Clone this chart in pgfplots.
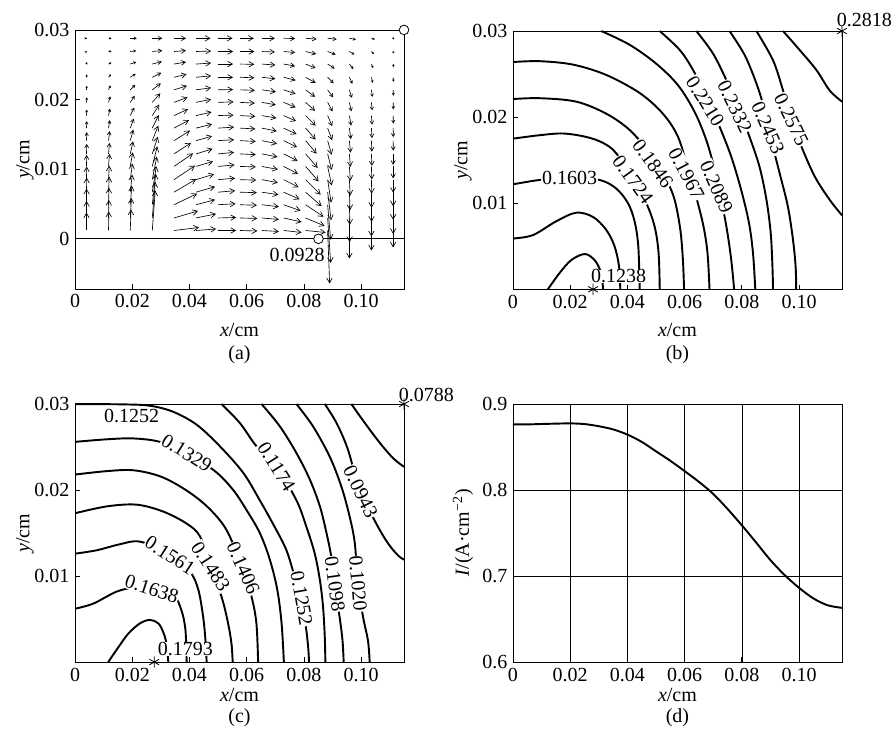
\documentclass[border=0pt]{standalone}
\usepackage{fontspec}
\setmainfont{Liberation Serif}
\usepackage{pgfplots}
\pgfplotsset{compat=1.18}
\usepackage{pgfplotstable}
\usetikzlibrary{arrows.meta}

\newcommand\fs{\fontsize{12.5}{14}\selectfont}

% quiver field of panel (a): grid point, arrow in image pixels (right, up)
\pgfplotstableread{
x y dx dy
0.0040 0.0012 0 18
0.0040 0.0030 0.1 17
0.0040 0.0049 0.1 16
0.0040 0.0067 0.2 14.5
0.0040 0.0085 0.2 13
0.0040 0.0104 0.2 11.5
0.0040 0.0122 0.3 10
0.0040 0.0141 0.3 8.5
0.0040 0.0159 0.3 7
0.0040 0.0177 0.3 6
0.0040 0.0196 0.3 5
0.0040 0.0214 0.3 4
0.0040 0.0232 0.3 3
0.0040 0.0251 0.3 2
0.0040 0.0269 0.4 0.3
0.0040 0.0288 0.4 0
0.0117 0.0012 0.3 19
0.0117 0.0030 0.4 18
0.0117 0.0049 0.5 17
0.0117 0.0067 0.7 15.5
0.0117 0.0085 0.8 14
0.0117 0.0104 1 12.5
0.0117 0.0122 1 11
0.0117 0.0141 1.2 9.5
0.0117 0.0159 1.3 8
0.0117 0.0177 1.5 7
0.0117 0.0196 1.8 6
0.0117 0.0214 2 4.5
0.0117 0.0232 2.5 3
0.0117 0.0251 3 1.5
0.0117 0.0269 3 0.4
0.0117 0.0288 3 0
0.0193 0.0012 0.8 21
0.0193 0.0030 1.2 20
0.0193 0.0049 1.6 19
0.0193 0.0067 2 17.5
0.0193 0.0085 2.2 16
0.0193 0.0104 2.5 14
0.0193 0.0122 2.8 12.5
0.0193 0.0141 3 11
0.0193 0.0159 3.5 9.5
0.0193 0.0177 4 8
0.0193 0.0196 4.5 6.5
0.0193 0.0214 5 5
0.0193 0.0232 5.5 3.5
0.0193 0.0251 6 2
0.0193 0.0269 6 0.8
0.0193 0.0288 6.5 0
0.0270 0.0012 3 40
0.0270 0.0030 3 36
0.0270 0.0049 3.5 31
0.0270 0.0067 4 26
0.0270 0.0085 4.5 23
0.0270 0.0104 5 20
0.0270 0.0122 5.5 17
0.0270 0.0141 6 15
0.0270 0.0159 6.5 13
0.0270 0.0177 7 11
0.0270 0.0196 8 9
0.0270 0.0214 8.5 6.5
0.0270 0.0232 9 4.5
0.0270 0.0251 9.5 2.5
0.0270 0.0269 10 1
0.0270 0.0288 10 0
0.0346 0.0012 25 3
0.0346 0.0030 24 7
0.0346 0.0049 23 11
0.0346 0.0067 22 13
0.0346 0.0085 21 14
0.0346 0.0104 19 13
0.0346 0.0122 17 11
0.0346 0.0141 16 10
0.0346 0.0159 15 8
0.0346 0.0177 14 6.5
0.0346 0.0196 13.5 5
0.0346 0.0214 13 4
0.0346 0.0232 12.5 3
0.0346 0.0251 12 2
0.0346 0.0269 12 1
0.0346 0.0288 12 0
0.0423 0.0012 20 1.5
0.0423 0.0030 20 4
0.0423 0.0049 19 5
0.0423 0.0067 19 5.5
0.0423 0.0085 18 5.5
0.0423 0.0104 17 5
0.0423 0.0122 16.5 5
0.0423 0.0141 16 4.5
0.0423 0.0159 16 4
0.0423 0.0177 15.5 3.5
0.0423 0.0196 15 3
0.0423 0.0214 15 2
0.0423 0.0232 15 1.5
0.0423 0.0251 15 1
0.0423 0.0269 15 0.5
0.0423 0.0288 14.5 0
0.0500 0.0012 18 0
0.0500 0.0030 18 0.5
0.0500 0.0049 17.5 1
0.0500 0.0067 17 1.5
0.0500 0.0085 17 1.5
0.0500 0.0104 16.5 1.5
0.0500 0.0122 16 1.5
0.0500 0.0141 16 1
0.0500 0.0159 16 1
0.0500 0.0177 15.5 0.5
0.0500 0.0196 15.5 0.5
0.0500 0.0214 15 0.3
0.0500 0.0232 15 0
0.0500 0.0251 15 0
0.0500 0.0269 15 0
0.0500 0.0288 14.5 0
0.0576 0.0012 17.5 -0.5
0.0576 0.0030 17.5 -0.5
0.0576 0.0049 17 -0.5
0.0576 0.0067 17 -0.5
0.0576 0.0085 16.5 -0.5
0.0576 0.0104 16 -0.5
0.0576 0.0122 16 -0.8
0.0576 0.0141 16 -0.8
0.0576 0.0159 15.5 -0.8
0.0576 0.0177 15.5 -0.8
0.0576 0.0196 15 -0.8
0.0576 0.0214 15 -0.5
0.0576 0.0232 14.5 -0.5
0.0576 0.0251 14.5 -0.3
0.0576 0.0269 14.5 0
0.0576 0.0288 14 0
0.0653 0.0012 17 -1
0.0653 0.0030 17 -1.5
0.0653 0.0049 17 -2
0.0653 0.0067 16.5 -2.5
0.0653 0.0085 16 -3
0.0653 0.0104 16 -3
0.0653 0.0122 15.5 -3
0.0653 0.0141 15 -3
0.0653 0.0159 15 -3
0.0653 0.0177 14.5 -2.5
0.0653 0.0196 14 -2.5
0.0653 0.0214 14 -2
0.0653 0.0232 13.5 -1.5
0.0653 0.0251 13.5 -1
0.0653 0.0269 13 -0.5
0.0653 0.0288 13 0
0.0729 0.0012 18 -2
0.0729 0.0030 18 -4
0.0729 0.0049 17 -6
0.0729 0.0067 16 -7
0.0729 0.0085 15 -7.5
0.0729 0.0104 14.5 -7.5
0.0729 0.0122 14 -7
0.0729 0.0141 13.5 -6.5
0.0729 0.0159 13 -6
0.0729 0.0177 12.5 -5.5
0.0729 0.0196 12 -5
0.0729 0.0214 12 -4
0.0729 0.0232 12 -3
0.0729 0.0251 11.5 -2
0.0729 0.0269 11.5 -1
0.0729 0.0288 11.5 -0.3
0.0806 0.0012 20 -2
0.0806 0.0030 19 -8
0.0806 0.0049 18 -12
0.0806 0.0067 16 -14
0.0806 0.0085 15 -15
0.0806 0.0104 13 -15
0.0806 0.0122 12 -14
0.0806 0.0141 11 -13
0.0806 0.0159 10 -11.5
0.0806 0.0177 10 -10
0.0806 0.0196 9.5 -8.5
0.0806 0.0214 9.5 -7
0.0806 0.0232 10 -5.5
0.0806 0.0251 10 -4
0.0806 0.0269 10.5 -2.5
0.0806 0.0288 11 -0.8
0.0883 0.0012 2 -53
0.0883 0.0030 3 -45
0.0883 0.0049 3 -35
0.0883 0.0067 3.5 -28
0.0883 0.0085 3.5 -23
0.0883 0.0104 4 -19
0.0883 0.0122 4 -16
0.0883 0.0141 4 -14
0.0883 0.0159 4.5 -12
0.0883 0.0177 4.5 -10.5
0.0883 0.0196 5 -9
0.0883 0.0214 5.5 -7.5
0.0883 0.0232 6 -6
0.0883 0.0251 7 -4.5
0.0883 0.0269 8 -3
0.0883 0.0288 9 -1
0.0959 0.0012 0 -28
0.0959 0.0030 0.3 -24
0.0959 0.0049 0.5 -20
0.0959 0.0067 0.7 -18
0.0959 0.0085 0.8 -16
0.0959 0.0104 1 -14.5
0.0959 0.0122 1 -13
0.0959 0.0141 1.2 -12
0.0959 0.0159 1.5 -11
0.0959 0.0177 1.8 -10
0.0959 0.0196 2 -9
0.0959 0.0214 2.5 -8
0.0959 0.0232 3 -6.5
0.0959 0.0251 4 -5
0.0959 0.0269 5 -3
0.0959 0.0288 6.5 -1.3
0.1036 0.0012 0 -20
0.1036 0.0030 0 -18.5
0.1036 0.0049 0.1 -17
0.1036 0.0067 0.2 -15.5
0.1036 0.0085 0.3 -14
0.1036 0.0104 0.4 -13
0.1036 0.0122 0.5 -12
0.1036 0.0141 0.5 -11
0.1036 0.0159 0.6 -10
0.1036 0.0177 0.7 -9
0.1036 0.0196 0.8 -8
0.1036 0.0214 1 -7
0.1036 0.0232 1.3 -5.5
0.1036 0.0251 1.8 -4
0.1036 0.0269 2.5 -2.5
0.1036 0.0288 3.5 -1
0.1112 0.0012 0 -17
0.1112 0.0030 0 -16
0.1112 0.0049 0 -15
0.1112 0.0067 0 -14
0.1112 0.0085 0 -13
0.1112 0.0104 0 -12
0.1112 0.0122 0 -11
0.1112 0.0141 0.1 -10
0.1112 0.0159 0.1 -9
0.1112 0.0177 0.2 -8
0.1112 0.0196 0.2 -7
0.1112 0.0214 0.3 -6
0.1112 0.0232 0.4 -4.5
0.1112 0.0251 0.6 -3
0.1112 0.0269 0.8 -2
0.1112 0.0288 1.2 -0.8
}\quiverdata

\pgfplotsset{
  panel/.style={scale only axis, width=205.6pt, anchor=south west, clip=false,
    xmin=0, xmax=0.115, tick align=inside, tick pos=left, major tick length=3pt,
    scaled ticks=false,
    axis line style={line width=0.5pt}, every tick/.append style={black, line width=0.5pt},
    xtick={0,0.02,0.04,0.06,0.08,0.10}, xticklabels={0,0.02,0.04,0.06,0.08,0.10},
    xlabel={\textit{x}/cm}, ylabel={\textit{y}/cm},
    ylabel style={at={(axis description cs:-0.152,0.5)}, anchor=center},
    tick label style={font=\fs}, label style={font=\fs},
    /pgf/number format/assume math mode=true},
}
\tikzset{
  cont/.style={black, line width=1.2pt, smooth, tension=0.55},
  clab/.style={fill=white, inner sep=0.4pt, font=\fs},
  star/.style={only marks, mark=asterisk, mark size=3.5pt, black, line width=0.5pt},
}

\begin{document}
\begin{tikzpicture}[font=\fs]
\useasboundingbox (0,0) rectangle (558.1pt,-463.75pt);

% (a) current vectors
\begin{axis}[panel, at={(46.9pt,-180.6pt)}, height=161.9pt, ymin=-0.0072, ymax=0.03,
  ytick={0,0.01,0.02,0.03}, yticklabels={0,0.01,0.02,0.03},
  xlabel style={at={(axis description cs:0.5,-0.158)}, anchor=center}]
\addplot[black, line width=0.5pt] coordinates {(0,0) (0.115,0)};
\addplot[black, line width=0.4pt,
  point meta={min(14,sqrt((\thisrow{dx})^2+(\thisrow{dy})^2))},
  point meta min=0, point meta max=14,
  quiver={u={\thisrow{dx}*0.00034954}, v={\thisrow{dy}*0.00014364},
    every arrow/.append style={-{Straight Barb[length=3pt,width=3.4pt,scale={max(0.3,\pgfplotspointmetatransformed/1000)}]}}}]
  table {\quiverdata};
\addplot[only marks, mark=*, mark size=3pt, mark options={fill=white, draw=black, line width=0.5pt}]
  coordinates {(0.0851,0) (0.115,0.03)};
\node[font=\fs] at (axis cs:0.0776,-0.0023) {0.0928};
\node[font=\fs] at (axis description cs:0.5,-0.252) {(a)};
\end{axis}

% (b)
\begin{axis}[panel, at={(320.6pt,-180.8pt)}, height=161.4pt, ymin=0, ymax=0.03,
  ytick={0.01,0.02,0.03}, yticklabels={0.01,0.02,0.03},
  xlabel style={at={(axis description cs:0.5,-0.158)}, anchor=center}]
\addplot[cont] coordinates {(0.0122,0) (0.0163,0.0019) (0.0204,0.0034) (0.0251,0.0041) (0.0285,0.0034) (0.0305,0.0022) (0.0312,0.0011) (0.0315,0)};
\addplot[cont] coordinates {(0,0.0059) (0.0070,0.0063) (0.0151,0.0079) (0.0221,0.0089) (0.0280,0.0084) (0.0326,0.0069) (0.0355,0.0050) (0.0371,0.0026) (0.0375,0)};
\addplot[cont] coordinates {(0,0.0122) (0.0035,0.0124) (0.0093,0.0127) (0.0198,0.0130) (0.0303,0.0127) (0.0361,0.0117) (0.0402,0.0100) (0.0425,0.0079) (0.0438,0.0050) (0.0443,0)};
\addplot[cont] coordinates {(0,0.0175) (0.0093,0.0179) (0.0175,0.0181) (0.0256,0.0177) (0.0315,0.0170) (0.0361,0.0158) (0.0419,0.0127) (0.0466,0.0100) (0.0495,0.0073) (0.0509,0.0042) (0.0513,0)};
\addplot[cont] coordinates {(0,0.0221) (0.0093,0.0222) (0.0221,0.0218) (0.0326,0.0204) (0.0408,0.0185) (0.0478,0.0158) (0.0536,0.0127) (0.0565,0.0104) (0.0585,0.0069) (0.0594,0.0034) (0.0598,0)};
\addplot[cont] coordinates {(0,0.0264) (0.0093,0.0265) (0.0210,0.0261) (0.0326,0.0249) (0.0443,0.0228) (0.0524,0.0204) (0.0577,0.0177) (0.0612,0.0139) (0.0643,0.0104) (0.0666,0.0073) (0.0680,0.0042) (0.0687,0)};
\addplot[cont] coordinates {(0.0309,0.0300) (0.0408,0.0284) (0.0501,0.0262) (0.0577,0.0237) (0.0635,0.0206) (0.0676,0.0173) (0.0705,0.0139) (0.0728,0.0104) (0.0748,0.0069) (0.0763,0.0034) (0.0773,0)};
\addplot[cont] coordinates {(0.0513,0.0300) (0.0583,0.0278) (0.0629,0.0255) (0.0676,0.0224) (0.0722,0.0189) (0.0763,0.0154) (0.0798,0.0115) (0.0825,0.0077) (0.0839,0.0042) (0.0847,0)};
\addplot[cont] coordinates {(0.0641,0.0300) (0.0699,0.0274) (0.0746,0.0243) (0.0787,0.0212) (0.0827,0.0177) (0.0862,0.0142) (0.0886,0.0104) (0.0901,0.0065) (0.0907,0.0026) (0.0909,0)};
\addplot[cont] coordinates {(0.0757,0.0300) (0.0810,0.0272) (0.0851,0.0239) (0.0880,0.0208) (0.0903,0.0173) (0.0932,0.0135) (0.0961,0.0096) (0.0979,0.0057) (0.0988,0.0026) (0.0990,0)};
\addplot[cont] coordinates {(0.0851,0.0300) (0.0909,0.0266) (0.0944,0.0231) (0.0973,0.0197) (0.1008,0.0166) (0.1055,0.0131) (0.1107,0.0104) (0.1150,0.0086)};
\addplot[cont] coordinates {(0.0944,0.0300) (0.1002,0.0278) (0.1060,0.0255) (0.1107,0.0231) (0.1150,0.0218)};
\addplot[star] coordinates {(0.028,0) (0.115,0.03)};
\node[clab] at (axis cs:0.0198,0.0129) {0.1603};
\node[clab, rotate=-54] at (axis cs:0.0419,0.0127) {0.1724};
\node[clab, rotate=-54] at (axis cs:0.0489,0.0146) {0.1846};
\node[clab, rotate=-62] at (axis cs:0.0606,0.0134) {0.1967};
\node[clab, rotate=-66] at (axis cs:0.0711,0.0119) {0.2089};
\node[clab, rotate=-58] at (axis cs:0.0672,0.0218) {0.2210};
\node[clab, rotate=-64] at (axis cs:0.0775,0.0212) {0.2332};
\node[clab, rotate=-66] at (axis cs:0.0891,0.0187) {0.2453};
\node[clab, rotate=-64] at (axis cs:0.0973,0.0197) {0.2575};
\node[clab, inner sep=0pt] at (axis cs:0.0369,0.0015) {0.1238};
\node[font=\fs] at (axis cs:0.1228,0.0313) {0.2818};
\node[font=\fs] at (axis description cs:0.5,-0.252) {(b)};
\end{axis}

% (c)
\begin{axis}[panel, at={(46.9pt,-413.75pt)}, height=161.25pt, ymin=0, ymax=0.03,
  ytick={0.01,0.02,0.03}, yticklabels={0.01,0.02,0.03},
  xlabel style={at={(axis description cs:0.5,-0.128)}, anchor=center}]
\addplot[cont] coordinates {(0.0116,0) (0.0151,0.0017) (0.0186,0.0033) (0.0227,0.0045) (0.0262,0.0049) (0.0291,0.0045) (0.0308,0.0035) (0.0320,0.0021) (0.0326,0)};
\addplot[cont] coordinates {(0,0.0062) (0.0064,0.0068) (0.0146,0.0082) (0.0215,0.0087) (0.0268,0.0085) (0.0343,0.0078) (0.0372,0.0060) (0.0386,0.0037) (0.0390,0)};
\addplot[cont] coordinates {(0,0.0126) (0.0076,0.0130) (0.0157,0.0137) (0.0227,0.0140) (0.0332,0.0126) (0.0402,0.0105) (0.0431,0.0084) (0.0448,0.0052) (0.0456,0.0025) (0.0460,0)};
\addplot[cont] coordinates {(0,0.0173) (0.0111,0.0181) (0.0215,0.0183) (0.0308,0.0175) (0.0390,0.0161) (0.0437,0.0146) (0.0471,0.0111) (0.0512,0.0076) (0.0535,0.0045) (0.0547,0.0021) (0.0551,0)};
\addplot[cont] coordinates {(0,0.0218) (0.0111,0.0222) (0.0204,0.0223) (0.0297,0.0216) (0.0378,0.0202) (0.0448,0.0185) (0.0506,0.0165) (0.0541,0.0146) (0.0588,0.0107) (0.0617,0.0076) (0.0634,0.0045) (0.0640,0)};
\addplot[cont] coordinates {(0,0.0256) (0.0111,0.0259) (0.0204,0.0260) (0.0297,0.0256) (0.0390,0.0243) (0.0489,0.0222) (0.0553,0.0200) (0.0599,0.0177) (0.0646,0.0150) (0.0681,0.0119) (0.0707,0.0084) (0.0722,0.0045) (0.0730,0)};
\addplot[cont] coordinates {(0,0.0300) (0.0169,0.02996) (0.0262,0.0298) (0.0343,0.0291) (0.0425,0.0276) (0.0506,0.0251) (0.0588,0.0220) (0.0646,0.0188) (0.0698,0.0157) (0.0739,0.0130) (0.0768,0.0099) (0.0792,0.0074) (0.0807,0.0041) (0.0815,0.0017) (0.0818,0)};
\addplot[cont] coordinates {(0.0512,0.0300) (0.0576,0.0278) (0.0634,0.0251) (0.0704,0.0227) (0.0774,0.0188) (0.0809,0.0157) (0.0838,0.0126) (0.0856,0.0095) (0.0867,0.0064) (0.0873,0.0029) (0.0875,0)};
\addplot[cont] coordinates {(0.0652,0.0300) (0.0716,0.0274) (0.0774,0.0243) (0.0821,0.0212) (0.0856,0.0181) (0.0879,0.0150) (0.0896,0.0122) (0.0908,0.0091) (0.0925,0.0052) (0.0935,0.0025) (0.0939,0)};
\addplot[cont] coordinates {(0.0774,0.0300) (0.0832,0.0274) (0.0890,0.0239) (0.0931,0.0204) (0.0960,0.0169) (0.0978,0.0138) (0.0989,0.0091) (0.1007,0.0052) (0.1024,0.0025) (0.1030,0)};
\addplot[cont] coordinates {(0.0873,0.0300) (0.0914,0.0278) (0.0954,0.0247) (0.0995,0.0200) (0.1053,0.0161) (0.1094,0.0138) (0.1129,0.0124) (0.1150,0.0119)};
\addplot[cont] coordinates {(0.0966,0.0300) (0.1013,0.0278) (0.1065,0.0255) (0.1112,0.0237) (0.1150,0.0227)};
\addplot[star] coordinates {(0.0277,0) (0.115,0.03)};
\node[clab] at (axis cs:0.0198,0.0286) {0.1252};
\node[clab, rotate=-32] at (axis cs:0.0390,0.0243) {0.1329};
\node[clab, rotate=-58] at (axis cs:0.0704,0.0227) {0.1174};
\node[clab, rotate=-64] at (axis cs:0.0998,0.0198) {0.0943};
\node[clab, rotate=-33] at (axis cs:0.0332,0.0124) {0.1561};
\node[clab, rotate=-57] at (axis cs:0.0474,0.0111) {0.1483};
\node[clab, rotate=-66] at (axis cs:0.0588,0.0109) {0.1406};
\node[clab, rotate=-80] at (axis cs:0.0792,0.0074) {0.1252};
\node[clab, rotate=-82] at (axis cs:0.0908,0.0091) {0.1098};
\node[clab, rotate=-85] at (axis cs:0.0989,0.0091) {0.1020};
\node[clab, rotate=-18] at (axis cs:0.0268,0.0085) {0.1638};
\node[clab, inner sep=0pt] at (axis cs:0.0386,0.0015) {0.1793};
\node[font=\fs] at (axis cs:0.1228,0.0311) {0.0788};
\node[font=\fs] at (axis description cs:0.5,-0.217) {(c)};
\end{axis}

% (d) current density along x
\begin{axis}[panel, at={(320.6pt,-413.75pt)}, height=161.25pt, ymin=0.6, ymax=0.9,
  ytick={0.6,0.7,0.8,0.9}, yticklabels={0.6,0.7,0.8,0.9},
  grid=major, grid style={black, line width=0.4pt},
  ylabel={\textit{I}/(A·cm\textsuperscript{−2})},
  xlabel style={at={(axis description cs:0.5,-0.128)}, anchor=center}]
\addplot[black, line width=1.2pt, smooth] coordinates {
  (0,0.8763) (0.005,0.8763) (0.01,0.8768) (0.015,0.8772) (0.02,0.8775) (0.025,0.8767)
  (0.03,0.8742) (0.035,0.8705) (0.04,0.8645) (0.045,0.8560) (0.05,0.8450) (0.055,0.8340)
  (0.06,0.8220) (0.065,0.8095) (0.07,0.7955) (0.075,0.7780) (0.08,0.7590) (0.085,0.7390)
  (0.09,0.7185) (0.095,0.7010) (0.10,0.6863) (0.105,0.6740) (0.11,0.6660) (0.115,0.6630)};
\node[font=\fs] at (axis description cs:0.5,-0.217) {(d)};
\end{axis}
\end{tikzpicture}
\end{document}
